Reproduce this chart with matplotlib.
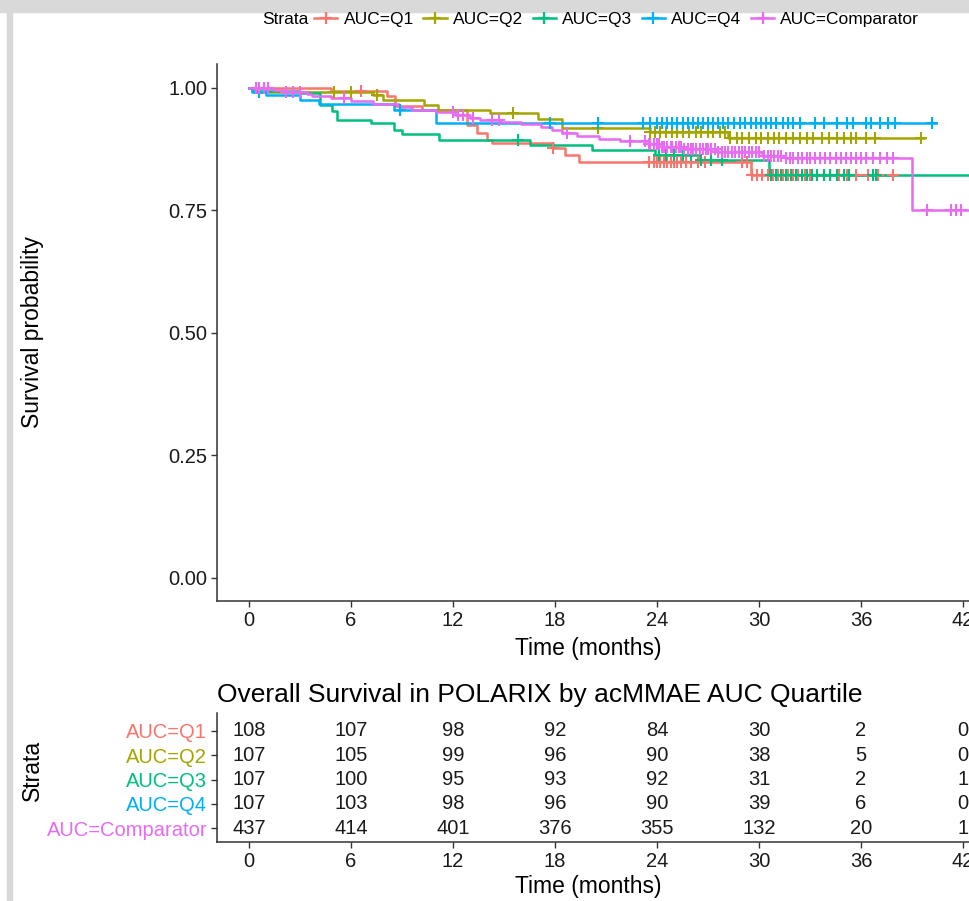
import matplotlib
matplotlib.use("Agg")
import matplotlib.pyplot as plt
from matplotlib.lines import Line2D
from matplotlib.patches import Rectangle
import numpy as np

plt.rcParams['font.family'] = ['Liberation Sans', 'DejaVu Sans']

# ---------------- data ----------------
strata = ["AUC=Q1", "AUC=Q2", "AUC=Q3", "AUC=Q4", "AUC=Comparator"]
colors = ["#F8766D", "#A3A500", "#00BF7D", "#00B0F6", "#E76BF3"]

q1_t = [0, 4.8, 8.1, 8.6, 10.2, 12.8, 13.4, 14.0, 14.3, 17.9, 18.6, 19.4, 29.5]
q1_s = [1.0, 0.994, 0.984, 0.963, 0.955, 0.924, 0.908, 0.894, 0.888, 0.878, 0.863, 0.849, 0.822]
q1_end = 37.9
q1_cens = [6.6, 17.9, 23.5, 23.8, 24.0, 24.2, 24.4, 24.6, 24.8, 25.0, 25.2, 25.4, 25.7, 26.0,
           26.4, 26.8, 29.0, 29.3, 29.6, 29.9, 30.2, 30.5, 30.8, 31.1, 31.4, 31.7, 32.0, 32.3,
           32.7, 33.0, 33.4, 33.8, 34.2, 34.7, 35.2, 35.7, 36.4, 37.0, 37.9]

q2_t = [0, 0.3, 7.3, 7.9, 10.3, 11.1, 14.2, 17.0, 18.4, 23.6, 28.2]
q2_s = [1.0, 0.991, 0.985, 0.976, 0.965, 0.955, 0.949, 0.937, 0.918, 0.910, 0.898]
q2_end = 39.7
q2_cens = [5.0, 6.0, 7.5, 15.5, 20.5, 23.6, 23.9, 24.2, 24.5, 24.9, 25.2, 25.5, 25.9, 26.3,
           26.6, 27.0, 27.3, 27.7, 28.0, 28.3, 28.7, 29.0, 29.4, 29.8, 30.1, 30.5, 30.9, 31.2,
           31.6, 32.0, 32.4, 32.8, 33.2, 33.7, 34.1, 34.6, 35.0, 35.4, 35.7, 36.3, 36.8, 39.5]

q3_t = [0, 0.2, 3.0, 4.2, 4.9, 5.2, 7.2, 8.5, 9.0, 11.2, 16.5, 20.2, 23.9, 26.5, 30.6]
q3_s = [1.0, 0.994, 0.990, 0.965, 0.953, 0.935, 0.929, 0.914, 0.906, 0.894, 0.884, 0.873, 0.863, 0.853, 0.822]
q3_end = 44.0
q3_cens = [15.8, 24.1, 24.5, 25.0, 25.5, 26.0, 26.6, 27.2, 27.8, 30.7, 31.0, 31.3, 31.6, 31.9,
           32.2, 32.5, 32.8, 33.1, 33.4, 33.8, 34.2, 34.6, 35.0, 35.3, 36.7, 36.9]

q4_t = [0, 0.2, 1.0, 3.0, 4.1, 8.5, 11.0]
q4_s = [1.0, 0.992, 0.986, 0.976, 0.967, 0.955, 0.929]
q4_end = 40.4
q4_cens = [0.6, 8.9, 17.7, 20.5, 23.2, 23.6, 24.0, 24.3, 24.6, 24.9, 25.2, 25.5, 25.8, 26.1,
           26.4, 26.7, 27.0, 27.3, 27.6, 27.9, 28.2, 28.5, 28.9, 29.2, 29.5, 29.8, 30.1, 30.4,
           30.7, 31.0, 31.4, 31.7, 32.0, 32.4, 33.3, 33.8, 34.6, 35.2, 35.5, 36.3, 36.6, 37.1,
           37.6, 38.0, 40.2]

cmp_t = [0, 1.4, 2.0, 3.4, 3.7, 4.8, 6.0, 7.3, 8.8, 9.6, 11.0, 12.1, 13.0, 13.6, 14.8, 16.0,
         17.2, 17.8, 18.4, 19.3, 20.6, 21.8, 23.5, 24.3, 25.6, 27.5, 30.2, 31.5, 39.0]
cmp_s = [1.0, 0.996, 0.992, 0.988, 0.984, 0.980, 0.973, 0.967, 0.961, 0.955, 0.951, 0.945,
         0.939, 0.935, 0.931, 0.927, 0.920, 0.914, 0.908, 0.902, 0.896, 0.892, 0.886, 0.880,
         0.876, 0.869, 0.861, 0.857, 0.751]
cmp_end = 42.6
cmp_cens = [0.4, 0.6, 0.9, 1.1, 2.2, 2.6, 3.0, 5.6, 12.0, 12.3, 12.6, 13.2, 14.3, 14.7, 18.7,
            22.4, 23.3, 23.5, 23.6, 23.8, 24.0, 24.1, 24.3, 24.4, 24.6, 24.8, 24.9, 25.1, 25.3,
            25.4, 25.6, 25.8, 26.0, 26.1, 26.3, 26.5, 26.7, 26.9, 27.0, 27.2, 27.4, 27.6, 27.8,
            28.0, 28.2, 28.4, 28.6, 28.8, 29.0, 29.2, 29.4, 29.6, 29.8, 30.0, 30.3, 30.5, 30.7,
            30.9, 31.1, 31.3, 31.6, 31.8, 32.0, 32.3, 32.5, 32.8, 33.0, 33.3, 33.6, 33.9, 34.2,
            34.5, 34.8, 35.1, 35.4, 35.7, 36.0, 36.3, 36.7, 37.1, 37.5, 37.9, 39.9, 41.3, 41.6,
            41.9]

risk_times = [0, 6, 12, 18, 24, 30, 36, 42]
risk_q1 = [108, 107, 98, 92, 84, 30, 2, 0]
risk_q2 = [107, 105, 99, 96, 90, 38, 5, 0]
risk_q3 = [107, 100, 95, 93, 92, 31, 2, 1]
risk_q4 = [107, 103, 98, 96, 90, 39, 6, 0]
risk_cmp = [437, 414, 401, 376, 355, 132, 20, 1]

y_ticks = [0.0, 0.25, 0.5, 0.75, 1.0]
y_ticklabels = ["0.00", "0.25", "0.50", "0.75", "1.00"]

curves = [(q1_t, q1_s, q1_end, q1_cens), (q2_t, q2_s, q2_end, q2_cens),
          (q3_t, q3_s, q3_end, q3_cens), (q4_t, q4_s, q4_end, q4_cens),
          (cmp_t, cmp_s, cmp_end, cmp_cens)]
risks = [risk_q1, risk_q2, risk_q3, risk_q4, risk_cmp]

# ---------------- figure ----------------
W, H = 969, 901
fig = plt.figure(figsize=(W / 100, H / 100), dpi=100)

def box(l, t, r, b):
    return [l / W, 1 - b / H, (r - l) / W, (b - t) / H]

TXT = "#1a1a1a"
SP = "#333333"
TICK_FS = 14.5
LAB_FS = 16.5
LEG_FAMILY = ["Liberation Sans Narrow", "Liberation Sans", "DejaVu Sans"]

# frame decorations of the screenshot
fig.patches.append(Rectangle((0, 1 - 12 / H), 1, 12 / H, transform=fig.transFigure,
                             color="#d9d9d9", zorder=0))
fig.patches.append(Rectangle((7 / W, 0), 5 / W, 1 - 12 / H, transform=fig.transFigure,
                             color="#d9d9d9", zorder=0))

# ---- main KM plot ----
ax = fig.add_axes(box(217, 63.5, 969, 601))
x_px0, x_scale = 249, 17.0
xlim = ((217 - x_px0) / x_scale, (969 - x_px0) / x_scale)
ax.set_xlim(*xlim)
ax.set_ylim(-0.047, 1.05)

for (t, s, end, cens), col in zip(curves, colors):
    tt = list(t) + [end]
    ss = list(s) + [s[-1]]
    ax.step(tt, ss, where="post", color=col, lw=1.8, zorder=3)
    idx = np.searchsorted(np.array(t), np.array(cens), side="right") - 1
    cy = np.array(s)[idx]
    ax.plot(cens, cy, linestyle="none", marker="+", markersize=8, mew=1.5, color=col, zorder=4)

for side in ["top", "right"]:
    ax.spines[side].set_visible(False)
for side in ["left", "bottom"]:
    ax.spines[side].set_color(SP)
    ax.spines[side].set_linewidth(1.1)
ax.set_xticks(risk_times)
ax.set_yticks(y_ticks)
ax.set_yticklabels(y_ticklabels)
ax.tick_params(axis="both", labelsize=TICK_FS, colors=SP, length=4, width=1.0, pad=3)
ax.tick_params(axis="both", labelcolor=TXT)
ax.set_xlabel("Time (months)", fontsize=LAB_FS, color="black")
ax.xaxis.set_label_coords((588 - 217) / 752, -(648 - 601) / (601 - 63.5))
ax.xaxis.label.set_va("center")
ax.set_ylabel("Survival probability", fontsize=LAB_FS, color="black")
ax.yaxis.set_label_coords(-(217 - 33) / 752, (601 - 332) / (601 - 63.5))
ax.yaxis.label.set_va("center")

# legend
fig.text(262 / W, 1 - 19 / H, "Strata", fontsize=12.5, ha="left", va="center", family=LEG_FAMILY)
handles = [Line2D([], [], color=c, lw=1.8, marker="+", markersize=9, mew=1.6) for c in colors]
leg = fig.legend(handles, strata, loc="center left", bbox_to_anchor=(314 / W, 1 - 19 / H),
                 ncol=5, frameon=False, handlelength=1.35, handletextpad=0.35,
                 columnspacing=0.55, borderpad=0, borderaxespad=0,
                 prop={"family": LEG_FAMILY, "size": 12.5})

# ---- risk table ----
at = fig.add_axes(box(217, 713, 969, 842))
at.set_xlim(*xlim)
at.set_ylim(0.423, 5.742)
nrow = len(strata)
for i, (vals, name) in enumerate(zip(risks, strata)):
    yv = nrow - i
    for tx, v in zip(risk_times, vals):
        at.text(tx, yv, str(v), ha="center", va="center", fontsize=TICK_FS, color=TXT)
at.set_yticks([nrow - i for i in range(nrow)])
at.set_yticklabels(strata)
at.set_xticks(risk_times)
for side in ["top", "right"]:
    at.spines[side].set_visible(False)
for side in ["left", "bottom"]:
    at.spines[side].set_color(SP)
    at.spines[side].set_linewidth(1.1)
at.tick_params(axis="both", labelsize=TICK_FS, colors=SP, length=4, width=1.0, pad=3)
at.tick_params(axis="x", labelcolor=TXT)
for lbl, col in zip(at.get_yticklabels(), colors):
    lbl.set_color(col)
at.set_xlabel("Time (months)", fontsize=LAB_FS, color="black")
at.xaxis.set_label_coords((588 - 217) / 752, -(887 - 842) / (842 - 713))
at.xaxis.label.set_va("center")
at.set_ylabel("Strata", fontsize=LAB_FS, color="black")
at.yaxis.set_label_coords(-(217 - 32) / 752, (842 - 770) / (842 - 713))
at.yaxis.label.set_va("center")
at.set_title("Overall Survival in POLARIX by acMMAE AUC Quartile", fontsize=19,
             loc="left", color="black", pad=8)

fig.savefig("out.png", dpi=100)
